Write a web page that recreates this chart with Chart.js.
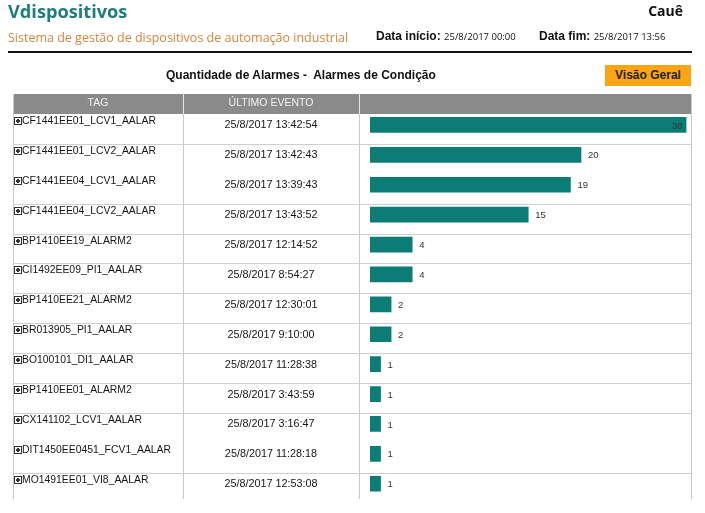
<!DOCTYPE html>
<html>
<head>
<meta charset="utf-8">
<script src="https://cdn.jsdelivr.net/npm/chart.js@4/dist/chart.umd.min.js"></script>
<style>
  body { margin: 0; background: #fff; width: 705px; height: 513px; overflow: hidden; position: relative; font-family: "Liberation Sans", Arial, sans-serif; }
  #chart { position: absolute; left: 0; top: 0; }
  .abs { position: absolute; white-space: nowrap; }
  #brand { left: 8px; top: -1px; font: bold 18.2px "Open Sans", sans-serif; color: #1b7f7d; }
  #sub { left: 8px; top: 29px; font: 12.5px "Open Sans", sans-serif; color: #e0823d; }
  #user { right: 22px; top: 1px; font: bold 14px "Open Sans", sans-serif; color: #111; }
  .dl { top: 29px; font: bold 12px "Liberation Sans", Arial, sans-serif; color: #111; }
  .dl span { font: 9.5px "Open Sans", sans-serif; font-weight: normal; }
  #rule { left: 8px; top: 51px; width: 684px; height: 2px; background: #111; }
  #ctitle { left: 166px; top: 68px; font: bold 12px "Liberation Sans", Arial, sans-serif; color: #111; }
  #btn { left: 605px; top: 65px; width: 86px; height: 21px; background: #fba514; font: bold 12px "Liberation Sans", Arial, sans-serif; color: #222; text-align: center; line-height: 20px; }
</style>
</head>
<body>
<canvas id="chart" width="705" height="513"></canvas>
<div class="abs" id="brand">Vdispositivos</div>
<div class="abs" id="sub">Sistema de gestão de dispositivos de automação industrial</div>
<div class="abs" id="user">Cauê</div>
<div class="abs dl" style="left:376px">Data início: <span>25/8/2017 00:00</span></div>
<div class="abs dl" style="left:539px">Data fim: <span>25/8/2017 13:56</span></div>
<div class="abs" id="rule"></div>
<div class="abs" id="ctitle">Quantidade de Alarmes -&nbsp; Alarmes de Condição</div>
<div class="abs" id="btn">Visão Geral</div>
<script>
// --- data ---
const tags = [
    "CF1441EE01_LCV1_AALAR", "CF1441EE01_LCV2_AALAR", "CF1441EE04_LCV1_AALAR",
    "CF1441EE04_LCV2_AALAR", "BP1410EE19_ALARM2", "CI1492EE09_PI1_AALAR",
    "BP1410EE21_ALARM2", "BR013905_PI1_AALAR", "BO100101_DI1_AALAR",
    "BP1410EE01_ALARM2", "CX141102_LCV1_AALAR", "DIT1450EE0451_FCV1_AALAR",
    "MO1491EE01_VI8_AALAR"
];
const lastEvents = [
    "25/8/2017 13:42:54", "25/8/2017 13:42:43", "25/8/2017 13:39:43",
    "25/8/2017 13:43:52", "25/8/2017 12:14:52", "25/8/2017 8:54:27",
    "25/8/2017 12:30:01", "25/8/2017 9:10:00", "25/8/2017 11:28:38",
    "25/8/2017 3:43:59", "25/8/2017 3:16:47", "25/8/2017 11:28:18",
    "25/8/2017 12:53:08"
];
const alarmCounts = [30, 20, 19, 15, 4, 4, 2, 2, 1, 1, 1, 1, 1];
const maxCount = 30;

// table geometry
const colX = [13, 183, 359, 691];
const headerTop = 94, headerBottom = 114, tableBottom = 499;
const hiddenRules = [2, 11]; // separators the source page doesn't show

// --- draws table grid, header and text columns behind the bars ---
const tablePlugin = {
    id: "table",
    beforeDatasetsDraw(chart) {
        const ctx = chart.ctx;
        const yScale = chart.scales.y;
        ctx.save();

        // header band
        ctx.fillStyle = "#8a8a8a";
        ctx.fillRect(colX[0], headerTop, colX[3] - colX[0], headerBottom - headerTop);
        ctx.fillStyle = "#f2f2f2";
        ctx.font = "10.5px 'Liberation Sans', Arial, sans-serif";
        ctx.textAlign = "center";
        ctx.textBaseline = "middle";
        ctx.fillText("TAG", (colX[0] + colX[1]) / 2, 103);
        ctx.fillText("ÚLTIMO EVENTO", (colX[1] + colX[2]) / 2, 103);

        // vertical lines
        ctx.strokeStyle = "#c8c8c8";
        ctx.lineWidth = 1;
        colX.forEach((x, i) => {
            ctx.beginPath();
            ctx.moveTo(x + 0.5, i === 0 || i === 3 ? headerTop : headerBottom);
            ctx.lineTo(x + 0.5, tableBottom);
            ctx.stroke();
        });
        ctx.strokeStyle = "#e6e6e6";
        [colX[1], colX[2]].forEach(x => {
            ctx.beginPath();
            ctx.moveTo(x + 0.5, headerTop);
            ctx.lineTo(x + 0.5, headerBottom);
            ctx.stroke();
        });

        // row separators + text
        ctx.strokeStyle = "#cfcfcf";
        tags.forEach((tag, i) => {
            const cy = yScale.getPixelForValue(i);
            if (i > 0 && !hiddenRules.includes(i)) {
                const ry = Math.round(cy - 11) + 0.5;
                ctx.beginPath();
                ctx.moveTo(colX[0], ry);
                ctx.lineTo(colX[3], ry);
                ctx.stroke();
            }
            // plus box icon
            const ty = Math.round(cy - 4);
            ctx.strokeStyle = "#333";
            ctx.strokeRect(14.5, ty - 3.5, 7, 7);
            ctx.fillStyle = "#333";
            ctx.fillRect(16, ty - 1, 4, 2);
            ctx.fillRect(17, ty - 2, 2, 4);
            ctx.strokeStyle = "#cfcfcf";

            ctx.fillStyle = "#151515";
            ctx.font = "10.4px 'Liberation Sans', Arial, sans-serif";
            ctx.textAlign = "left";
            ctx.fillText(tag, 22, ty);
            ctx.font = "10.8px 'Liberation Sans', Arial, sans-serif";
            ctx.textAlign = "center";
            ctx.fillText(lastEvents[i], (colX[1] + colX[2]) / 2, cy + 0.5);
        });
        ctx.restore();
    },
    afterDatasetsDraw(chart) {
        const ctx = chart.ctx;
        const meta = chart.getDatasetMeta(0);
        ctx.save();
        ctx.font = "9.5px 'Liberation Sans', Arial, sans-serif";
        ctx.textBaseline = "middle";
        ctx.fillStyle = "#333";
        meta.data.forEach((bar, i) => {
            const label = String(alarmCounts[i]);
            const w = ctx.measureText(label).width;
            if (bar.x + 8 + w > chart.chartArea.right) {
                ctx.textAlign = "right";
                ctx.fillText(label, bar.x - 4, bar.y + 1);
            } else {
                ctx.textAlign = "left";
                ctx.fillText(label, bar.x + 7, bar.y + 1);
            }
        });
        ctx.restore();
    }
};

new Chart(document.getElementById("chart"), {
    type: "bar",
    data: {
        labels: tags,
        datasets: [{
            data: alarmCounts,
            backgroundColor: "#0b7d76",
            barThickness: 15
        }]
    },
    options: {
        indexAxis: "y",
        responsive: false,
        animation: false,
        layout: { padding: { left: 370, right: 18.5, top: 110, bottom: 14.3 } },
        plugins: { legend: { display: false }, tooltip: { enabled: false } },
        scales: {
            x: { min: 0, max: maxCount, display: false },
            y: { display: false }
        }
    },
    plugins: [tablePlugin]
});
</script>
</body>
</html>
